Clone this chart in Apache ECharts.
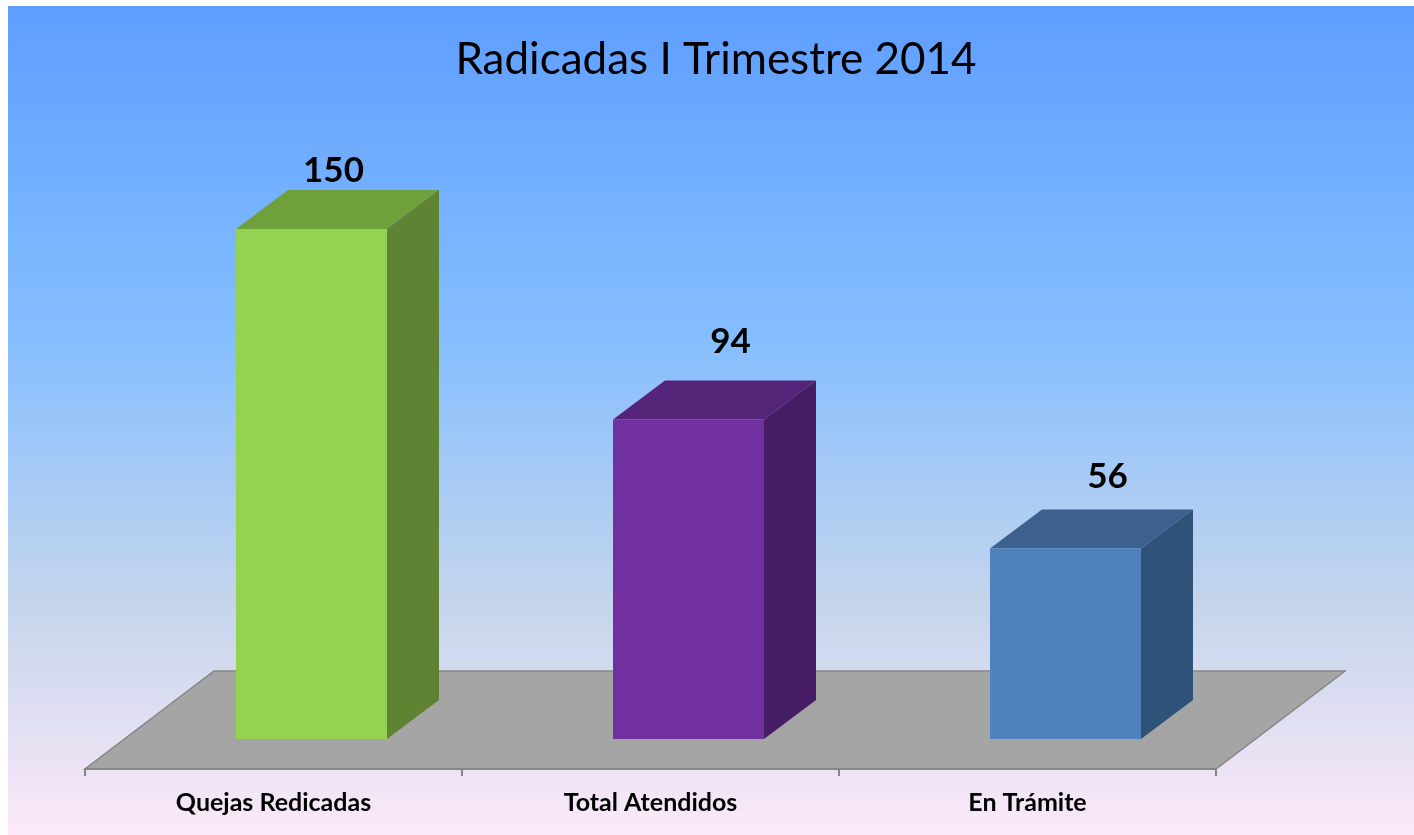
<!DOCTYPE html>
<html>
<head>
<meta charset="utf-8">
<style>html,body{margin:0;padding:0;background:#fff}#c{width:1414px;height:835px}</style>
<script src="https://cdn.jsdelivr.net/npm/echarts@6/dist/echarts.min.js"></script>
</head>
<body>
<div id="c"></div>
<script>
const titleText = 'Radicadas I Trimestre 2014';
const categories = ['Quejas Redicadas', 'Total Atendidos', 'En Trámite'];
const values = [150, 94, 56];
const frontColors = ['#94D251', '#7030A0', '#4F81BD'];
const topColors = ['#70A03C', '#542478', '#3C618E'];
const sideColors = ['#5F8332', '#461C64', '#2F5279'];
const labelShiftX = [22, 42, 42];
const labelGapY = [19, 39, 33];

const FONT = 'Lato, "Open Sans", sans-serif';
const BAR_W = 151, DEPTH_X = 52, DEPTH_Y = 39, BAR_SHIFT = 38;
const FLOOR_FRONT = 30, FLOOR_BACK = 68, FLOOR_DX = 129;

const chart = echarts.init(document.getElementById('c'));
chart.setOption({
  animation: false,
  title: {
    text: titleText, left: 711, top: 33, textAlign: 'center',
    textStyle: { fontFamily: FONT, fontSize: 44, fontWeight: 'normal', color: '#000' }
  },
  graphic: [{
    type: 'rect', z: -10, silent: true,
    shape: { x: 8, y: 6, width: 1406, height: 829 },
    style: {
      fill: {
        type: 'linear', x: 0, y: 0, x2: 0, y2: 1,
        colorStops: [
          { offset: 0, color: '#5E9EFF' },
          { offset: 0.4, color: '#85BEFF' },
          { offset: 0.72, color: '#C4D5EC' },
          { offset: 1, color: '#FCE9F8' }
        ]
      }
    }
  }],
  grid: { left: 85, right: 198, top: 229, bottom: 96 },
  xAxis: {
    type: 'category', data: categories, offset: 30, z: 2,
    axisLine: { onZero: false, lineStyle: { color: '#868686', width: 2 } },
    axisTick: { show: true, length: 7, alignWithLabel: false, lineStyle: { color: '#868686', width: 2 } },
    axisLabel: { margin: 21, fontFamily: FONT, fontSize: 25, fontWeight: 'bold', color: '#000' }
  },
  yAxis: { type: 'value', min: 0, max: 150, show: false, splitLine: { show: false } },
  series: [
    {
      type: 'custom', z: 1, silent: true, clip: false,
      data: [0],
      renderItem: (params) => {
        const g = params.coordSys;
        const yf = g.y + g.height + FLOOR_FRONT, yb = g.y + g.height - FLOOR_BACK;
        return {
          type: 'polygon',
          shape: { points: [[g.x, yf], [g.x + g.width, yf], [g.x + g.width + FLOOR_DX, yb], [g.x + FLOOR_DX, yb]] },
          style: { fill: '#A5A5A5', stroke: '#868686', lineWidth: 1.5 }
        };
      }
    },
    {
      type: 'custom', z: 3, clip: false,
      encode: { x: 0, y: 1 },
      data: values.map((v, i) => [i, v]),
      renderItem: (params, api) => {
        const i = api.value(0);
        const top = api.coord([i, api.value(1)]);
        const base = api.coord([i, 0]);
        const x0 = top[0] + BAR_SHIFT - BAR_W / 2, x1 = x0 + BAR_W;
        return {
          type: 'group',
          children: [
            { type: 'polygon', shape: { points: [[x0, top[1]], [x1, top[1]], [x1 + DEPTH_X, top[1] - DEPTH_Y], [x0 + DEPTH_X, top[1] - DEPTH_Y]] },
              style: { fill: topColors[i] } },
            { type: 'polygon', shape: { points: [[x1, top[1]], [x1 + DEPTH_X, top[1] - DEPTH_Y], [x1 + DEPTH_X, base[1] - DEPTH_Y], [x1, base[1]]] },
              style: { fill: sideColors[i] } },
            { type: 'rect', shape: { x: x0, y: top[1], width: BAR_W, height: base[1] - top[1] },
              style: { fill: frontColors[i] } },
            { type: 'text',
              style: {
                text: String(api.value(1)),
                x: top[0] + BAR_SHIFT + labelShiftX[i], y: top[1] - DEPTH_Y - labelGapY[i],
                align: 'center', verticalAlign: 'middle',
                font: 'bold 35px ' + FONT, fill: '#000'
              } }
          ]
        };
      }
    }
  ]
});
</script>
</body>
</html>
